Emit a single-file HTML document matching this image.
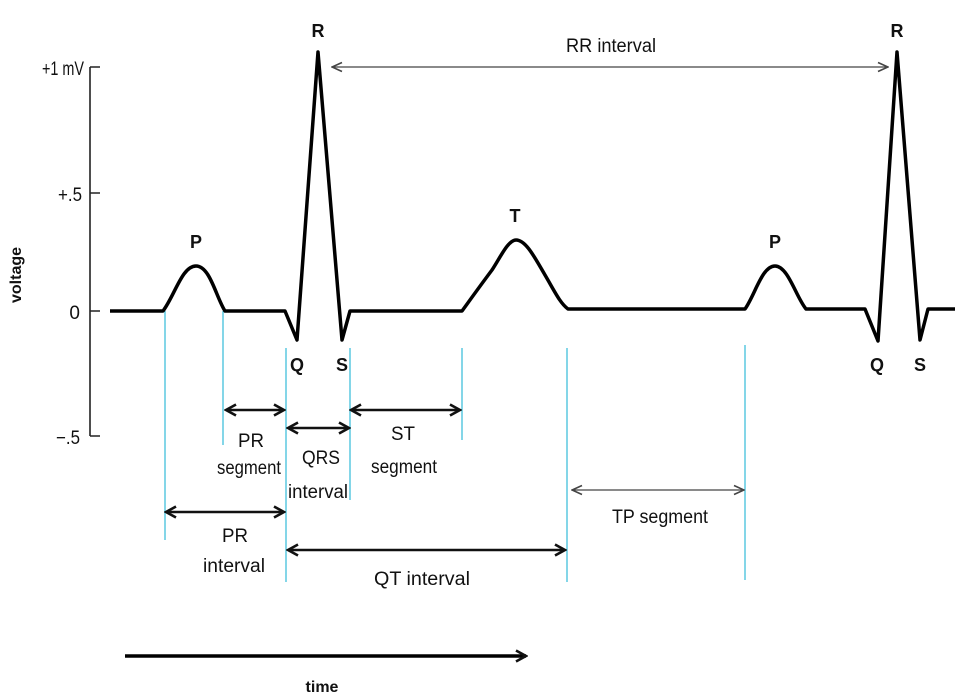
<!DOCTYPE html>
<html><head><style>
body{margin:0;background:#fff}
svg{display:block}
text{font-family:"Liberation Sans",sans-serif;fill:#111}
.b{font-weight:bold}
</style></head><body>
<svg width="980" height="698" viewBox="0 0 980 698">
<defs>
<marker id="a" markerWidth="14" markerHeight="14" refX="12" refY="7" orient="auto-start-reverse" markerUnits="userSpaceOnUse"><path d="M2,1.5 L12,7 L2,12.5" fill="none" stroke="#111" stroke-width="2.6"/></marker>
<marker id="t" markerWidth="12" markerHeight="12" refX="11" refY="6" orient="auto-start-reverse" markerUnits="userSpaceOnUse"><path d="M1,1.5 L11,6 L1,10.5" fill="none" stroke="#444" stroke-width="1.6"/></marker>
</defs>
<g stroke="#222" stroke-width="1.6" fill="none">
<path d="M90,67 V436"/>
<path d="M90,67 H100 M90,193 H100 M90,311 H100 M90,436 H100"/>
</g>
<g font-size="19" text-anchor="end">
<text x="84" y="75" textLength="42" lengthAdjust="spacingAndGlyphs">+1 mV</text>
<text x="82" y="201" textLength="24" lengthAdjust="spacingAndGlyphs">+.5</text>
<text x="80" y="319">0</text>
<text x="80" y="444" textLength="24" lengthAdjust="spacingAndGlyphs">−.5</text>
</g>
<text class="b" font-size="16" transform="translate(21,275) rotate(-90)" text-anchor="middle">voltage</text>
<g stroke="#5bc8e0" stroke-width="1.5">
<path d="M165,311 V540 M223,311 V445 M286,348 V582 M350,348 V500 M462,348 V440 M567,348 V582 M745,345 V580"/>
</g>
<path d="M110,311 H163 C175,295 182,266 196,266 C210,266 216,297 225,311 H285 L297,340 L318,52 L342,340 L350,311 H462 C470,300 480,286 492,270 C500,258 508,240 516,240 C526,240 535,258 545,275 C555,292 560,303 568,309 H745 C755,295 762,266 775,266 C788,266 796,297 806,309 H865 L878,341 L897,52 L920,340 L928,309 H955" fill="none" stroke="#000" stroke-width="3.5" stroke-linejoin="round"/>
<g class="b" font-size="18" text-anchor="middle">
<text x="318" y="37">R</text>
<text x="897" y="37">R</text>
<text x="196" y="248">P</text>
<text x="775" y="248">P</text>
<text x="515" y="222">T</text>
<text x="297" y="371">Q</text>
<text x="342" y="371">S</text>
<text x="877" y="371">Q</text>
<text x="920" y="371">S</text>
<text x="322" y="692" font-size="16">time</text>
</g>
<g fill="none">
<path d="M332,67 H888" stroke="#444" stroke-width="1.3" marker-start="url(#t)" marker-end="url(#t)"/>
<path d="M572,490 H744" stroke="#444" stroke-width="1.3" marker-start="url(#t)" marker-end="url(#t)"/>
<g stroke="#111" stroke-width="2.4" marker-start="url(#a)" marker-end="url(#a)">
<path d="M226,410 H284"/>
<path d="M288,428 H349"/>
<path d="M351,410 H460"/>
<path d="M166,512 H284"/>
<path d="M288,550 H565"/>
</g>
<path d="M125,656 H526" stroke="#000" stroke-width="3.5" marker-end="url(#a)"/>
</g>
<g font-size="19" text-anchor="middle" lengthAdjust="spacingAndGlyphs">
<text x="611" y="52" textLength="90" lengthAdjust="spacingAndGlyphs">RR interval</text>
<text x="660" y="523" textLength="96" lengthAdjust="spacingAndGlyphs">TP segment</text>
<text x="251" y="447" textLength="26" lengthAdjust="spacingAndGlyphs">PR</text>
<text x="249" y="474" textLength="64" lengthAdjust="spacingAndGlyphs">segment</text>
<text x="321" y="464" textLength="38" lengthAdjust="spacingAndGlyphs">QRS</text>
<text x="318" y="498" textLength="60" lengthAdjust="spacingAndGlyphs">interval</text>
<text x="403" y="440" textLength="24" lengthAdjust="spacingAndGlyphs">ST</text>
<text x="404" y="473" textLength="66" lengthAdjust="spacingAndGlyphs">segment</text>
<text x="235" y="542" textLength="26" lengthAdjust="spacingAndGlyphs">PR</text>
<text x="234" y="572" textLength="62" lengthAdjust="spacingAndGlyphs">interval</text>
<text x="422" y="585" textLength="96" lengthAdjust="spacingAndGlyphs">QT interval</text>
</g>
</svg>
</body></html>
